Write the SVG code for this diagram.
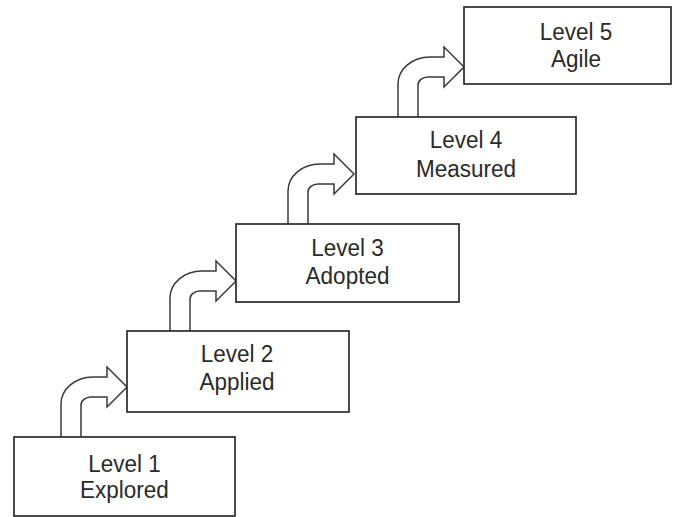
<svg xmlns="http://www.w3.org/2000/svg" xmlns:xlink="http://www.w3.org/1999/xlink" width="675" height="517" viewBox="0 0 675 517">
  <style>
    .box { fill: #ffffff; stroke: #2b2b2b; stroke-width: 1.7; }
    .step { fill: #ffffff; stroke: #3a3a3a; stroke-width: 1.5; stroke-linejoin: miter; }
    .label { font-family: "Liberation Sans", Arial, sans-serif; font-size: 22.5px; fill: #2a2a2a; text-anchor: middle; }
  </style>
  <defs>
    <!-- curved "step up" arrow; origin = outer stem foot on the lower box top -->
    <path id="stepArrow" class="step"
          d="M0,0 V-33 A32,27 0 0 1 32,-60 H46 V-70 L66,-50 L46,-30 V-40 H30 A10,8 0 0 0 20,-32 V0"/>
  </defs>

  <rect width="675" height="517" fill="#ffffff"/>

  <g id="connectors">
    <use xlink:href="#stepArrow" transform="translate(61,437)"/>
    <use xlink:href="#stepArrow" transform="translate(170,331)"/>
    <use xlink:href="#stepArrow" transform="translate(288,224)"/>
    <use xlink:href="#stepArrow" transform="translate(398,117)"/>
  </g>

  <!-- labels use a slightly tall face: each line is stretched 10% upward from its baseline -->
  <g id="level1">
    <rect class="box" x="14" y="437" width="221" height="79"/>
    <text class="label" transform="translate(124.5,472) scale(1,1.1)">Level 1</text>
    <text class="label" transform="translate(124.5,498) scale(1,1.1)">Explored</text>
  </g>

  <g id="level2">
    <rect class="box" x="127" y="331" width="222" height="81"/>
    <text class="label" transform="translate(237,362) scale(1,1.1)">Level 2</text>
    <text class="label" transform="translate(237,390) scale(1,1.1)">Applied</text>
  </g>

  <g id="level3">
    <rect class="box" x="236" y="224" width="223" height="78"/>
    <text class="label" transform="translate(347.5,256) scale(1,1.1)">Level 3</text>
    <text class="label" transform="translate(347.5,284) scale(1,1.1)">Adopted</text>
  </g>

  <g id="level4">
    <rect class="box" x="356" y="117" width="220" height="77"/>
    <text class="label" transform="translate(466,148) scale(1,1.1)">Level 4</text>
    <text class="label" transform="translate(466,177) scale(1,1.1)">Measured</text>
  </g>

  <g id="level5">
    <rect class="box" x="464" y="7" width="207" height="77"/>
    <text class="label" transform="translate(576,40) scale(1,1.1)">Level 5</text>
    <text class="label" transform="translate(576,67) scale(1,1.1)">Agile</text>
  </g>
</svg>
